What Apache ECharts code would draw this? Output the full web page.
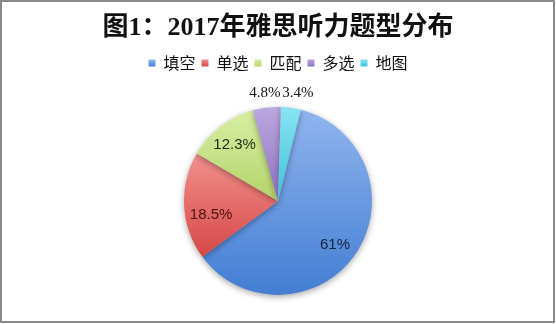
<!DOCTYPE html>
<html>
<head>
<meta charset="utf-8">
<script src="https://cdn.jsdelivr.net/npm/echarts@6/dist/echarts.min.js"></script>
<style>
  html, body { margin: 0; padding: 0; background: #fff; }
  #chart { width: 556px; height: 324px; }
</style>
</head>
<body>
<div id="chart"></div>
<script>
// Question types and their share (%) of the 2017 IELTS listening papers
const categories = ['填空', '单选', '匹配', '多选', '地图'];
const shares = [61, 18.5, 12.3, 4.8, 3.4];
const titleText = '图1：2017年雅思听力题型分布';

// Vertical two-stop fills per slice (light top, darker bottom)
const fillTop = ['#8fb5ef', '#f2908d', '#d8eea4', '#bba9e0', '#88e3f1'];
const fillBottom = ['#447dd3', '#d54846', '#b3d46a', '#8e70c2', '#3cc3db'];
const labelColors = ['#17243d', '#4a1414', '#1f2a12', '#111', '#111'];

const center = ['50%', '62%'];
const pieRadius = 94;
const start = 76;

function grad(i) {
  return new echarts.graphic.LinearGradient(0, 0, 0, 1, [
    { offset: 0, color: fillTop[i] },
    { offset: 1, color: fillBottom[i] }
  ]);
}

const chart = echarts.init(document.getElementById('chart'), null, { renderer: 'canvas' });

const mainData = categories.map((name, i) => ({
  name, value: shares[i], itemStyle: { color: grad(i) }
}));

// Transparent overlays used only to place the percentage labels
function labelSeries(radius, show, fontFamily, offsets) {
  return {
    type: 'pie',
    silent: true,
    center,
    radius: [0, radius],
    startAngle: start,
    clockwise: true,
    z: 5,
    emphasis: { disabled: true },
    itemStyle: { color: 'rgba(0,0,0,0)', borderWidth: 0 },
    labelLine: { show: false },
    data: categories.map((name, i) => ({
      name, value: shares[i],
      label: {
        show: show[i],
        position: 'inner',
        formatter: '{c}%',
        color: labelColors[i],
        fontFamily,
        fontSize: 15,
        offset: offsets[i]
      }
    }))
  };
}

chart.setOption({
  animation: false,
  backgroundColor: '#fff',
  title: {
    text: titleText,
    left: 'center',
    top: 10,
    textStyle: {
      fontFamily: '"Liberation Serif", "Noto Sans CJK SC", serif',
      fontWeight: 'bold',
      fontSize: 26,
      color: '#111'
    }
  },
  legend: {
    left: 'center',
    top: 50,
    icon: 'rect',
    itemWidth: 7,
    itemHeight: 7,
    itemGap: 6,
    selectedMode: false,
    data: categories.map((name, i) => ({ name, itemStyle: { color: grad(i) } })),
    textStyle: {
      fontFamily: '"Noto Sans CJK SC", sans-serif',
      fontSize: 16,
      color: '#111',
      padding: [0, 0, 0, 3]
    }
  },
  graphic: [{
    type: 'rect',
    silent: true,
    shape: { x: 1, y: 1, width: 553, height: 321 },
    style: { fill: 'none', stroke: '#8a8a8a', lineWidth: 2 }
  }],
  series: [
    {
      type: 'pie',
      center,
      radius: [0, pieRadius],
      startAngle: start,
      clockwise: true,
      silent: true,
      emphasis: { disabled: true },
      label: { show: false },
      labelLine: { show: false },
      itemStyle: {
        borderWidth: 0,
        shadowColor: 'rgba(0,0,0,0.35)',
        shadowBlur: 6,
        shadowOffsetY: 2
      },
      data: mainData
    },
    labelSeries(136, [true, true, true, false, false],
      '"Liberation Sans", "Noto Sans", sans-serif',
      [[-2, 4], [4, 10], [0, 0], [0, 0], [0, 0]]),
    labelSeries(212, [false, false, false, true, true],
      '"Liberation Serif", serif',
      [[0, 0], [0, 0], [0, 0], [0, 0], [5, 0]])
  ]
});
</script>
</body>
</html>
